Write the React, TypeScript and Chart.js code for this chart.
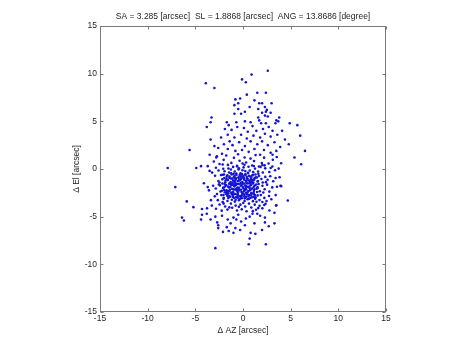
import React, { useEffect, useRef } from 'react';
import { Chart, registerables } from 'chart.js';

Chart.register(...registerables);

const titleText = 'SA = 3.285 [arcsec]  SL = 1.8868 [arcsec]  ANG = 13.8686 [degree]';
const xLabel = '\u0394 AZ [arcsec]';
const yLabel = '\u0394 El [arcsec]';
const axisTicks = [-15, -10, -5, 0, 5, 10, 15];

const outlierPoints: [number, number][] = [
  [-7.9, 0.1], [-7.1, -1.9], [-6.4, -5.1], [-6.2, -5.4], [-5.9, -3.4], [-5.6, 2.0], [-5.2, -4.0],
  [-4.9, 0.1], [-4.4, 0.3], [-4.3, -4.2], [-4.3, -4.8], [-4.1, -1.5], [-3.9, 9.0], [-3.0, 8.5],
  [-3.8, 4.4], [-3.4, 3.1], [-2.9, -8.3], [2.6, 10.3], [0.9, 9.9], [-0.1, 9.4], [0.3, 9.1],
  [6.0, 3.5], [5.4, 1.2], [6.1, 0.5], [4.7, -3.3], [2.4, -7.9], [0.6, -7.9], [5.7, 4.6], [4.9, 4.8],
  [-3.7, 0.3], [-3.5, -0.2], [-3.7, -1.9], [6.5, 1.9],
];

const upperPoints: [number, number][] = [
  [-0.8, 7.3], [-0.9, 6.7], [-0.5, 6.3], [-0.9, 5.8], [-3.3, 5.4], [-3.4, 4.9], [-1.7, 4.9], [-0.7, 4.9],
  [-1.5, 4.6], [0.4, 7.8], [1.5, 8.0], [2.4, 8.0], [-0.3, 7.4], [1.2, 7.2], [2.0, 6.9], [1.7, 6.9],
  [3.0, 6.9], [-0.5, 6.9], [0.7, 6.5], [2.3, 6.5], [2.5, 6.2], [1.6, 6.3], [0.2, 6.0], [2.4, 6.0],
  [2.0, 5.9], [2.9, 5.9], [-0.2, 5.8], [2.3, 5.6], [2.6, 5.5], [1.6, 5.4], [3.8, 5.4], [3.5, 5.1],
  [0.2, 5.0], [0.8, 4.9], [1.7, 5.1], [1.9, 4.8], [2.4, 4.8], [3.4, 4.8], [3.7, 5.0],
  [-1.9, 4.2], [-1.2, 4.1], [-2.3, 3.3], [-1.6, 3.6], [-0.6, 4.4], [0.1, 4.3], [0.5, 3.9], [1.0, 4.5],
  [1.4, 4.0], [2.1, 4.2], [2.7, 4.4], [3.1, 4.0], [4.1, 4.0], [3.6, 3.6], [2.9, 3.4], [2.3, 3.7],
  [1.8, 3.3], [1.1, 3.5], [0.4, 3.2], [-0.2, 3.6], [-0.9, 3.3], [-1.4, 2.9], [-2.0, 2.6], [-2.6, 2.2],
  [-1.1, 2.5], [-0.4, 2.8], [0.2, 2.4], [0.8, 2.9], [1.5, 2.6], [2.0, 2.9], [2.6, 2.5], [3.3, 2.8],
  [3.9, 2.3], [4.4, 3.1], [4.8, 2.6], [1.2, 2.1], [0.6, 1.8], [-0.1, 2.0], [-0.8, 1.9], [-1.6, 2.1],
  [-2.2, 1.6], [2.2, 2.0], [2.9, 1.7], [3.5, 1.9], [3.1, 1.5], [1.8, 1.5], [-3.0, 2.4], [-2.8, 1.2],
  [-3.5, 1.5], [4.0, 0.6], [2.9, 0.1],
];

const corePoints: [number, number][] = [
  [-2.74, 1.33], [-2.03, 0.96], [-1.76, 1.41], [-1.22, 0.64], [-0.95, 1.17], [-0.52, 1.54], [-0.36, 0.87], [0.17, 1.21],
  [0.33, 0.68], [0.79, 1.09], [1.16, 0.83], [1.32, 1.46], [1.97, 0.62], [2.21, 1.19], [2.68, 0.57], [3.13, 0.97],
  [-1.58, 0.43], [-0.04, 0.58], [0.96, 0.36], [-2.46, 0.53], [1.67, 0.27], [-0.61, 0.26], [2.04, 0.41], [-3.06, 0.78],
  [3.54, 1.26],
  [-2.84, 0.13], [-2.57, -0.16], [-2.13, 0.47], [-1.94, -0.24], [-1.53, 0.06], [-1.46, -0.37], [-1.04, 0.22], [-0.87, -0.27],
  [-0.63, 0.34], [-0.47, -0.04], [-0.26, -0.46], [0.06, 0.17], [0.24, -0.22], [0.58, 0.23], [0.71, -0.16], [1.07, -0.33],
  [1.26, 0.04], [1.58, -0.27], [1.84, 0.22], [2.08, -0.36], [2.33, 0.07], [2.76, -0.31], [3.08, 0.27], [3.36, -0.13],
  [-3.24, -0.38], [-1.27, -0.06], [-0.42, 0.08], [0.53, -0.41], [1.14, 0.31], [-2.07, 0.03], [2.27, 0.38], [-0.06, -0.13],
  [3.74, 0.04], [0.16, 0.44],
  [-2.93, -0.71], [-2.58, -1.27], [-2.31, -0.64], [-2.17, -1.08], [-1.86, -1.39], [-1.72, -0.82], [-1.61, -1.16], [-1.43, -0.93],
  [-1.37, -1.47], [-1.18, -0.58], [-1.04, -1.22], [-0.97, -0.87], [-0.88, -1.33], [-0.76, -1.04], [-0.69, -0.62], [-0.53, -1.29],
  [-0.47, -0.95], [-0.36, -1.17], [-0.24, -0.74], [-0.18, -1.03], [-0.07, -1.36], [0.04, -0.83], [0.13, -1.12], [0.26, -0.61],
  [0.31, -1.26], [0.44, -0.97], [0.57, -1.21], [0.63, -0.72], [0.82, -1.07], [0.94, -1.38], [1.06, -0.63], [1.17, -1.14],
  [1.34, -0.86], [1.52, -1.31], [1.68, -0.74], [1.93, -1.05], [2.07, -1.42], [2.34, -0.83], [2.58, -1.12], [2.86, -0.76],
  [3.17, -1.28], [3.42, -0.94], [-2.47, -1.41], [-1.26, -0.99], [0.76, -1.43], [-0.11, -0.52], [1.61, -0.51], [-1.99, -0.57],
  [2.41, -1.38], [3.84, -0.86],
  [-3.13, -1.76], [-2.86, -2.04], [-2.53, -1.63], [-2.36, -2.36], [-2.04, -1.96], [-1.93, -1.57], [-1.74, -2.27], [-1.57, -1.84],
  [-1.46, -2.33], [-1.24, -1.64], [-1.16, -2.07], [-1.03, -2.43], [-0.96, -1.66], [-0.84, -2.16], [-0.76, -1.52], [-0.66, -2.26],
  [-0.57, -1.94], [-0.44, -1.57], [-0.37, -2.24], [-0.23, -1.76], [-0.16, -2.42], [-0.04, -1.58], [0.04, -2.04], [0.16, -2.27],
  [0.23, -1.73], [0.34, -2.14], [0.47, -1.52], [0.53, -2.37], [0.64, -1.86], [0.76, -2.17], [0.84, -1.63], [0.93, -2.06],
  [1.14, -2.31], [1.23, -1.74], [1.43, -2.06], [1.64, -1.57], [1.76, -2.34], [2.04, -1.76], [2.27, -2.13], [2.53, -1.64],
  [2.76, -2.37], [3.07, -1.93], [3.56, -1.86], [3.93, -1.77], [-3.57, -2.24], [-2.43, -1.72], [-1.37, -2.18], [-0.52, -2.47],
  [0.31, -1.83], [1.04, -1.51], [1.52, -1.92], [-0.91, -1.82], [-1.67, -2.41], [2.13, -2.47], [-1.97, -2.21],
  [-2.96, -2.87], [-2.64, -3.27], [-2.27, -2.74], [-2.04, -3.13], [-1.76, -2.63], [-1.63, -3.36], [-1.43, -2.86], [-1.17, -3.23],
  [-1.03, -2.66], [-0.86, -3.42], [-0.73, -2.97], [-0.57, -2.64], [-0.43, -3.27], [-0.26, -2.83], [-0.13, -3.07], [0.04, -2.63],
  [0.17, -3.36], [0.33, -2.94], [0.47, -3.17], [0.63, -2.73], [0.77, -3.04], [1.04, -3.37], [1.13, -2.64], [1.27, -3.13],
  [1.54, -2.77], [1.73, -3.26], [1.87, -2.73], [2.24, -3.03], [2.47, -3.36], [2.73, -2.84], [2.97, -3.17], [3.43, -2.74],
  [-3.36, -3.27], [-2.13, -3.47], [-1.07, -2.92], [0.43, -2.57], [1.42, -3.43], [-0.54, -3.02], [2.03, -3.46],
  [-2.73, -2.63], [0.87, -2.53], [-1.53, -2.57], [0.13, -2.88], [-0.77, -3.22], [1.17, -2.93],
  [-3.27, -3.84], [-2.83, -4.17], [-2.46, -3.73], [-2.23, -4.37], [-1.87, -3.94], [-1.63, -4.26], [-1.27, -3.63], [-1.13, -4.07],
  [-0.77, -3.84], [-0.63, -4.36], [-0.27, -3.74], [-0.13, -4.23], [0.23, -3.93], [0.37, -4.43], [0.63, -3.63], [0.87, -4.04],
  [1.23, -3.74], [1.37, -4.27], [1.73, -3.86], [2.03, -4.13], [2.37, -3.64], [2.77, -4.36], [3.47, -3.83], [-3.77, -4.13],
  [-0.43, -3.97], [1.03, -4.42], [-1.43, -4.03], [0.03, -3.57], [2.23, -3.77], [-2.03, -3.63],
];

const denseCorePoints: [number, number][] = [
  [-1.83, -1.21], [0.42, -2.67], [-0.71, -0.48], [1.12, -1.88], [-2.05, -2.73], [-0.14, -1.62], [0.87, -0.93], [-1.36, -2.91],
  [0.21, -2.12], [-0.92, -1.77], [1.48, -2.41], [-1.64, -0.66], [-0.38, -2.84], [0.66, -1.49], [-1.12, -1.03], [0.03, -0.71],
  [-2.17, -1.52], [1.31, -0.58], [-0.56, -2.37], [0.95, -2.96], [-1.48, -1.94], [-0.27, -1.13], [0.52, -0.42], [-0.83, -2.62],
  [1.57, -1.27], [-1.97, -0.94], [0.18, -3.08], [-1.23, -2.48], [0.74, -2.23], [-0.46, -0.87], [-1.71, -2.26], [1.03, -1.16],
  [-0.08, -2.53], [-0.99, -0.51], [0.36, -1.41], [-1.54, -3.05], [1.24, -2.74], [-0.63, -1.58], [0.11, -0.98], [-2.09, -1.98],
  [0.81, -1.71], [-1.29, -1.36], [-0.22, -2.18], [0.57, -2.88], [-0.77, -0.96], [1.39, -1.62], [-1.91, -2.44], [0.29, -1.77],
  [-1.06, -2.79], [-0.41, -1.97], [0.98, -0.67], [-1.58, -1.16], [0.07, -2.36], [-0.86, -1.41], [1.19, -2.13], [-2.13, -0.61],
  [0.46, -1.06], [-1.17, -1.68], [-0.31, -3.12], [0.69, -1.98], [-1.41, -0.79], [1.46, -0.89], [-0.59, -2.71], [0.24, -0.56],
  [-1.77, -1.68], [0.89, -2.57], [-0.17, -0.91], [-1.02, -2.14], [0.61, -3.15], [-2.02, -3.02], [1.08, -1.42], [-0.49, -1.24],
  [0.33, -2.49], [-1.26, -0.44], [-0.69, -2.06], [1.33, -2.98], [-1.66, -2.69], [0.14, -1.52], [-0.94, -3.01], [0.77, -0.79],
  [-0.12, -2.77], [-1.52, -2.32], [0.49, -1.87], [-0.81, -1.19], [1.21, -0.97], [-1.88, -1.83], [-0.03, -1.88], [0.92, -1.31],
  [-1.19, -2.61], [-0.35, -0.64], [0.58, -2.31], [-1.45, -1.56], [-0.64, -2.94], [1.54, -1.98], [-2.22, -2.28], [0.17, -2.71],
  [-0.89, -0.73], [0.84, -2.77], [-1.33, -1.86], [-0.24, -1.46], [0.39, -0.82], [-1.73, -1.02], [1.11, -2.52], [-0.52, -2.12],
  [-1.09, -1.49], [0.71, -1.23], [-0.19, -2.98], [-1.62, -2.84], [0.27, -2.02], [-0.74, -1.67],
];

const lowerPoints: [number, number][] = [
  [-3.8, -4.7], [-2.7, -5.6], [-2.6, -5.9], [-2.6, -6.2], [-1.7, -6.1], [-1.5, -6.5], [-0.8, -6.2], [-1.0, -6.7],
  [-1.0, -5.1], [1.8, -4.9], [2.3, -5.1], [2.3, -5.6], [0.7, -5.0], [0.2, -5.9], [1.2, -5.7], [3.3, -5.7],
  [2.7, -6.0], [-0.3, -6.4], [0.8, -6.7], [1.3, -6.8], [0.7, -7.3], [3.3, -4.6], [-2.2, -4.9], [-1.6, -5.3],
  [-0.5, -4.8], [0.3, -5.2], [1.5, -4.7], [-2.9, -5.0], [-1.3, -5.7], [-0.2, -5.5], [2.0, -6.4], [-2.1, -6.6],
  [-3.4, -5.3], [-4.4, -5.3], [1.0, -4.7], [-0.7, -5.3], [1.6, -4.1], [3.5, -3.8], [4.0, -1.8],
];

export default function App() {
  const ref = useRef<HTMLCanvasElement>(null);

  useEffect(() => {
    document.body.style.margin = '0';
    const canvas = ref.current;
    if (!canvas) return;
    const data = [...outlierPoints, ...upperPoints, ...corePoints, ...denseCorePoints, ...lowerPoints]
      .map(([x, y]) => ({ x, y }));
    const font = { family: "'Liberation Sans', Arial, sans-serif", size: 8.5 };
    const textColor = '#262626';

    const framePlugin = {
      id: 'frame',
      afterDraw(chart: any) {
        const { ctx, chartArea: a, scales } = chart;
        ctx.save();
        ctx.strokeStyle = '#7a7a7a';
        ctx.lineWidth = 1;
        const l = Math.round(a.left) + 0.5;
        const r = Math.round(a.right) - 0.5;
        const t = Math.round(a.top) + 0.5;
        const b = Math.round(a.bottom) - 0.5;
        ctx.strokeRect(l, t, r - l, b - t);
        ctx.beginPath();
        for (const v of axisTicks) {
          const px = Math.round(scales.x.getPixelForValue(v)) + 0.5;
          ctx.moveTo(px, b); ctx.lineTo(px, b - 3);
          ctx.moveTo(px, t); ctx.lineTo(px, t + 3);
          const py = Math.round(scales.y.getPixelForValue(v)) + 0.5;
          ctx.moveTo(l, py); ctx.lineTo(l + 3, py);
          ctx.moveTo(r, py); ctx.lineTo(r - 3, py);
        }
        ctx.stroke();
        ctx.restore();
      },
    };

    const chart = new Chart(canvas, {
      type: 'scatter',
      data: {
        datasets: [{
          data,
          backgroundColor: '#1414d2',
          borderWidth: 0,
          pointRadius: 1.3,
          pointHoverRadius: 1.3,
        }],
      },
      options: {
        animation: false,
        responsive: false,
        devicePixelRatio: 1,
        layout: { padding: { left: 68, right: 82, top: 0, bottom: 15 } },
        plugins: {
          legend: { display: false },
          tooltip: { enabled: false },
          title: {
            display: true,
            text: titleText,
            fullSize: false,
            color: textColor,
            font: { ...font, weight: 'normal' },
            padding: { top: 12, bottom: 3.8 },
          },
        },
        scales: {
          x: {
            type: 'linear',
            min: -15,
            max: 15,
            grid: { display: false, drawTicks: false },
            border: { display: false },
            ticks: { stepSize: 5, color: textColor, font, padding: 2, autoSkip: false, maxRotation: 0,
              callback: (v: any) => String(v) },
            title: { display: true, text: xLabel, color: textColor, font, padding: { top: 0, bottom: 0 } },
            afterFit: (s: any) => { s.height = 24; },
          },
          y: {
            type: 'linear',
            min: -15,
            max: 15,
            grid: { display: false, drawTicks: false },
            border: { display: false },
            ticks: { stepSize: 5, color: textColor, font, padding: 3, autoSkip: false,
              callback: (v: any) => String(v) },
            title: { display: true, text: yLabel, color: textColor, font, padding: { top: 4, bottom: 4 } },
            afterFit: (s: any) => { s.width = 32; },
          },
        },
      },
      plugins: [framePlugin],
    });
    return () => chart.destroy();
  }, []);

  return (
    <div style={{ width: 468, height: 351, background: '#fff' }}>
      <canvas ref={ref} width={468} height={351} />
    </div>
  );
}
